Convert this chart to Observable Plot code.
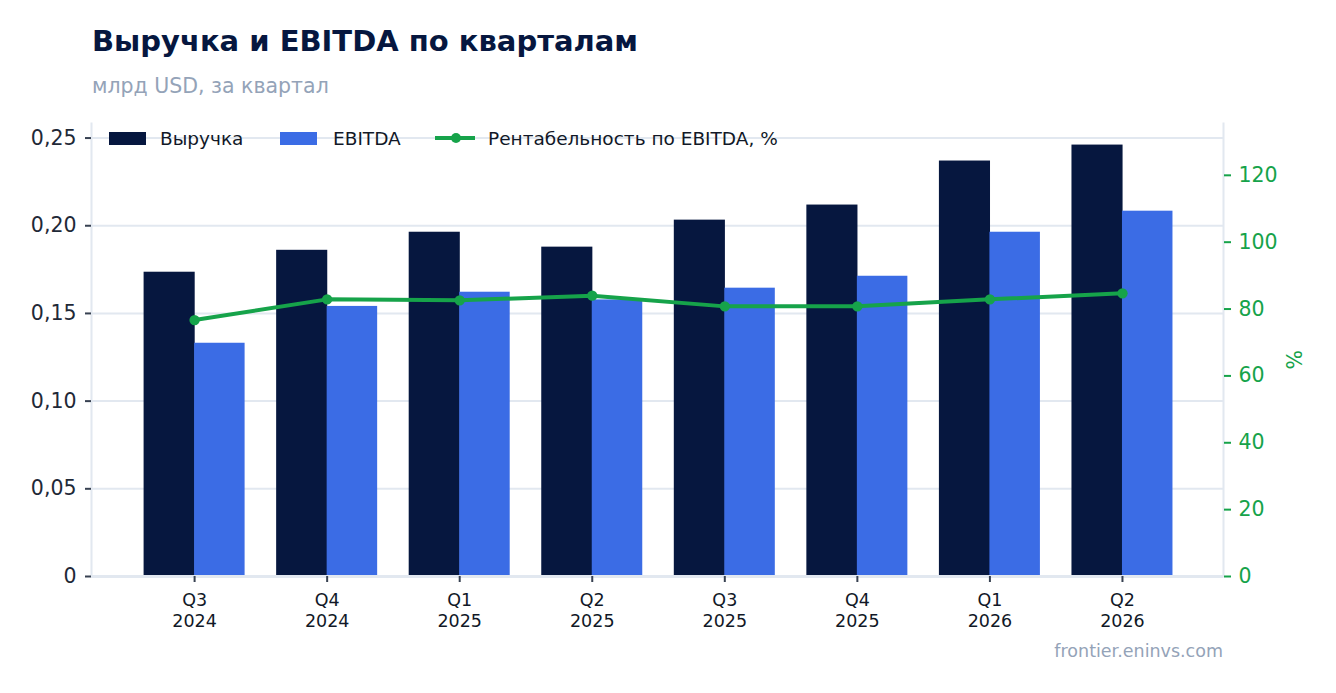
<!DOCTYPE html>
<html>
<head>
<meta charset="utf-8">
<script src="https://cdn.jsdelivr.net/npm/d3@7"></script>
<script src="https://cdn.jsdelivr.net/npm/@observablehq/plot@0.6"></script>
<style>
  html, body { margin: 0; padding: 0; background: #ffffff; }
  body { width: 1336px; height: 693px; position: relative; overflow: hidden; font-family: "DejaVu Sans", sans-serif; }
  .abs { position: absolute; white-space: nowrap; }
  #title { left: 92px; top: 26.5px; font-size: 29px; line-height: 29px; font-weight: bold; color: #06173f; }
  #subtitle { left: 92px; top: 76px; font-size: 20.5px; line-height: 20.5px; color: #94a3b8; }
  #chart { position: absolute; left: 0; top: 110px; }
  #credit { right: 113px; top: 643px; font-size: 17.5px; line-height: 17.5px; color: #94a3b8; }
  .lg-text { font-size: 18.5px; line-height: 18.5px; color: #111827; top: 129.5px; }
  .sw { position: absolute; height: 13px; top: 132px; width: 37px; }
  .lg-line { position: absolute; top: 136px; height: 4px; width: 40px; left: 435px; background: #16a34a; }
  .lg-dot { position: absolute; top: 133px; left: 451px; width: 10px; height: 10px; border-radius: 50%; background: #16a34a; }
</style>
</head>
<body>
<div id="title" class="abs">Выручка и EBITDA по кварталам</div>
<div id="subtitle" class="abs">млрд USD, за квартал</div>
<div id="chart"></div>
<div class="sw" style="left:109px;background:#06173f"></div>
<div class="abs lg-text" style="left:160px">Выручка</div>
<div class="sw" style="left:280px;background:#3b6ce5"></div>
<div class="abs lg-text" style="left:333px">EBITDA</div>
<div class="lg-line"></div>
<div class="lg-dot"></div>
<div class="abs lg-text" style="left:488px">Рентабельность по EBITDA, %</div>
<div id="credit" class="abs">frontier.eninvs.com</div>
<script>
// ---- data ----
const quarters = ["Q3 2024", "Q4 2024", "Q1 2025", "Q2 2025", "Q3 2025", "Q4 2025", "Q1 2026", "Q2 2026"];
const revenue = [0.1735, 0.1860, 0.1963, 0.1878, 0.2032, 0.2118, 0.2369, 0.2460];
const ebitda  = [0.1330, 0.1540, 0.1621, 0.1577, 0.1644, 0.1712, 0.1963, 0.2083];
const margin  = [76.7, 82.9, 82.6, 84.0, 80.8, 80.8, 82.9, 84.7];
const leftTicks = [0, 0.05, 0.10, 0.15, 0.20, 0.25];
const rightTicks = [0, 20, 40, 60, 80, 100, 120];
const leftMax = 0.2583;
const rightMax = 135.5;

// ---- layout ----
const W = 1336, H = 583;
const mL = 91, mR = 113, mT = 13, mB = 117;
const pIn = 0.238, pOut = 0.389;
const step = (W - mL - mR) / (quarters.length - pIn + 2 * pOut);
const half = step * (1 - pIn) / 2;
const k = rightMax / leftMax;

const navy = "#06173f", blue = "#3b6ce5", green = "#16a34a", gridC = "#e2e8f0";

const chart = Plot.plot({
  width: W, height: H,
  marginLeft: mL, marginRight: mR, marginTop: mT, marginBottom: mB,
  style: { fontFamily: "DejaVu Sans, sans-serif", fontSize: "20px", color: "#1f2937", background: "transparent", overflow: "visible" },
  x: { domain: quarters, paddingInner: pIn, paddingOuter: pOut, align: 0.51, round: false, axis: null },
  y: { domain: [0, leftMax], axis: null },
  marks: [
    Plot.gridY(leftTicks, { stroke: gridC, strokeOpacity: 1, strokeWidth: 2 }),
    Plot.frame({ anchor: "left", stroke: gridC, strokeWidth: 2 }),
    Plot.frame({ anchor: "right", stroke: gridC, strokeWidth: 2 }),
    Plot.barY(quarters, { x: quarters, y: revenue, fill: navy, insetRight: half - 0.6, insetLeft: 0 }),
    Plot.barY(quarters, { x: quarters, y: ebitda, fill: blue, insetLeft: half, insetRight: 0 }),
    Plot.ruleY([0], { stroke: gridC, strokeWidth: 3 }),
    Plot.line(quarters, { x: quarters, y: margin.map(m => m / k), stroke: green, strokeWidth: 4 }),
    Plot.dot(quarters, { x: quarters, y: margin.map(m => m / k), r: 5.2, fill: green, stroke: "none" }),
    Plot.axisY(leftTicks, {
      anchor: "left", tickSize: 6, tickPadding: 9, fontSize: 20.5, color: "#1f2937", stroke: "#374151", strokeWidth: 2,
      tickFormat: d => d === 0 ? "0" : d.toFixed(2).replace(".", ","), label: null
    }),
    Plot.axisY(rightTicks.map(t => t / k), {
      anchor: "right", tickSize: 7, tickPadding: 8, fontSize: 20.5, color: green, strokeWidth: 2,
      tickFormat: d => String(Math.round(d * k)), label: null
    }),
    Plot.text(["%"], { frameAnchor: "right", dx: 72, rotate: -90, fill: green, fontSize: 20.5 }),
    Plot.axisX({
      anchor: "bottom", tickSize: 6, tickPadding: 9, fontSize: 17.5, lineHeight: 1.2, color: "#111827", stroke: "#374151", strokeWidth: 2,
      tickFormat: d => d.replace(" ", "\n"), label: null
    })
  ]
});
document.getElementById("chart").appendChild(chart);
</script>
</body>
</html>
